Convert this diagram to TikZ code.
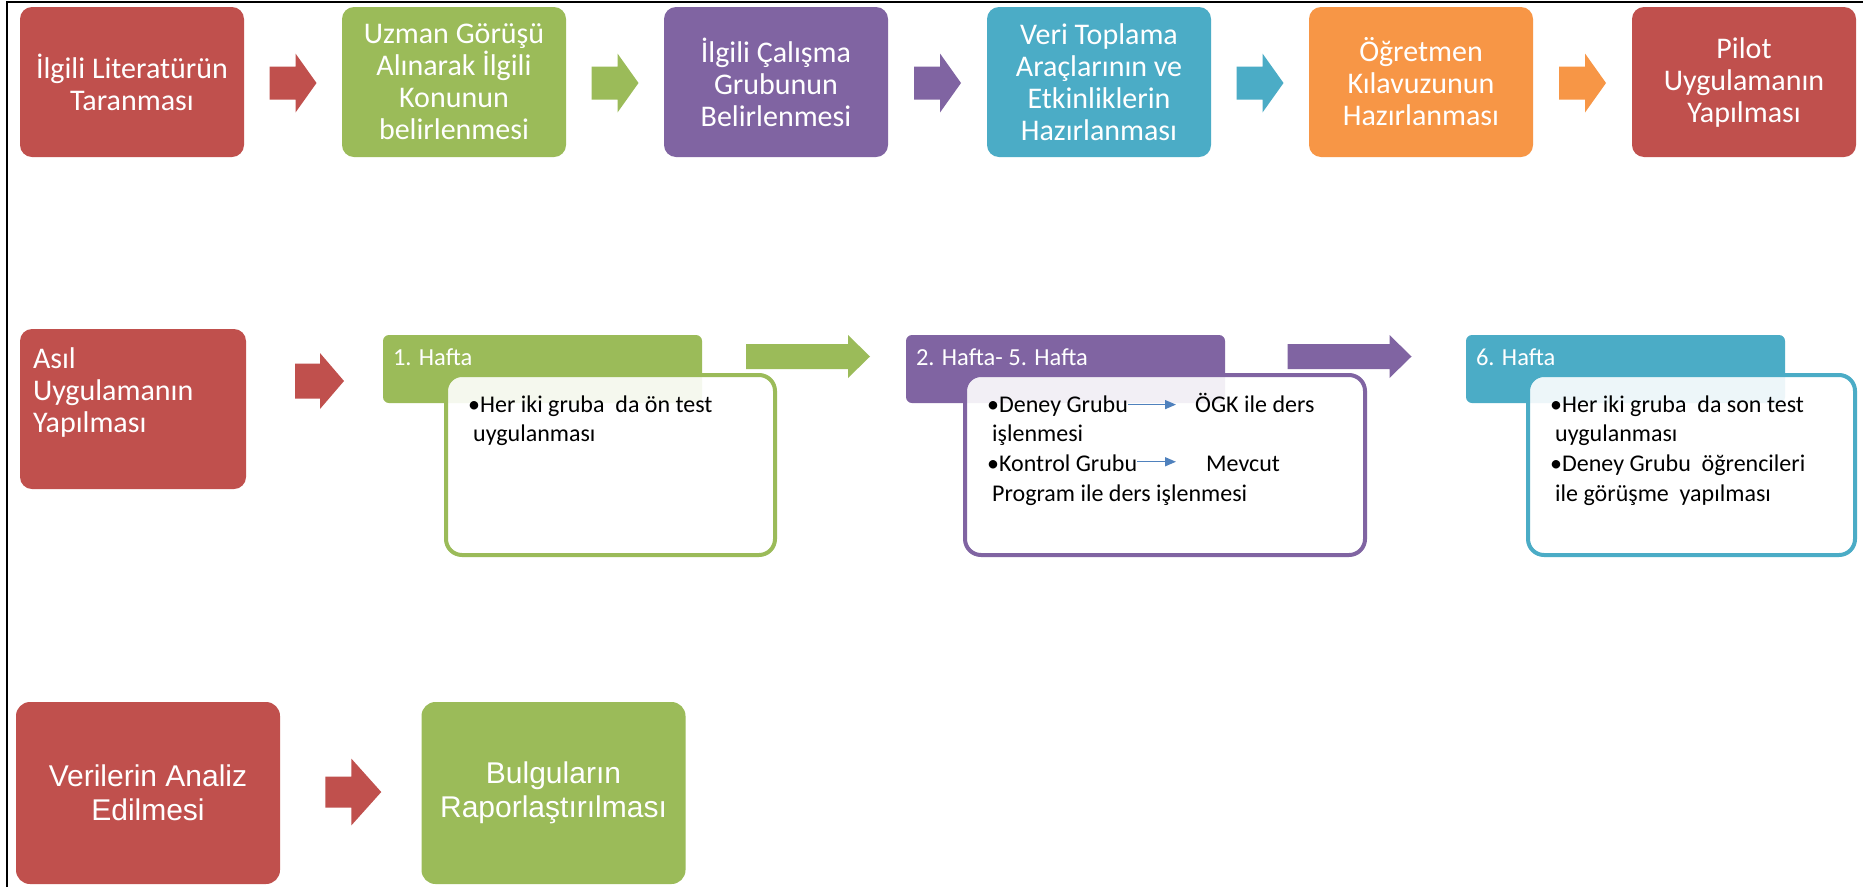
\documentclass[tikz,border=0pt]{standalone}
\usepackage{fontspec}
\setmainfont{Carlito}
\newfontfamily\arialfont{Liberation Sans}
\usetikzlibrary{calc,arrows.meta}

\definecolor{cred}{HTML}{C0504D}
\definecolor{cgreen}{HTML}{9BBB59}
\definecolor{cpurple}{HTML}{8064A2}
\definecolor{cteal}{HTML}{4BACC6}
\definecolor{corange}{HTML}{F79646}
\definecolor{cblue}{HTML}{4F81BD}

\tikzset{
  stepbox/.style={rounded corners=12pt, inner sep=0pt, text=white, align=center,
    font=\fontsize{30}{32}\selectfont, minimum width=224pt, minimum height=150pt},
  plainbox/.style={rounded corners=12pt, inner sep=0pt},
  boxtext/.style={inner sep=0pt, text=white, align=left, font=\fontsize{30}{32}\selectfont},
  hdrbox/.style={rounded corners=6pt, inner sep=0pt, minimum width=319pt, minimum height=68pt},
  hdrtext/.style={inner sep=0pt, text=white, anchor=west, font=\fontsize{24.5}{28}\selectfont},
  card/.style={rounded corners=16pt, line width=4pt, fill=white, fill opacity=0.9,
    text opacity=1, minimum height=180pt, inner sep=0pt},
  btext/.style={inner sep=0pt, anchor=base west, text=black, font=\fontsize{24}{29}\selectfont},
  smallarrow/.style={draw=cblue, line width=1.4pt, -{Triangle[length=11pt,width=9pt]}},
  finalbox/.style={rounded corners=14pt, inner sep=0pt, text=white, align=center,
    font=\arialfont\fontsize{30}{33.5}\selectfont, minimum width=264pt, minimum height=182pt},
  pics/blockarrow/.style args={#1/#2/#3/#4}{code={
    \fill ({-(#1+#2)/2},{-#3}) -- ({-(#1+#2)/2+#1},{-#3}) -- ({-(#1+#2)/2+#1},{-#4})
      -- ({(#1+#2)/2},0) -- ({-(#1+#2)/2+#1},{#4}) -- ({-(#1+#2)/2+#1},{#3})
      -- ({-(#1+#2)/2},{#3}) -- cycle;
  }}
}

\begin{document}
\begin{tikzpicture}[x=1pt, y=-1pt]
\useasboundingbox (0,0) rectangle (1863,887);
\fill[white] (0,0) rectangle (1863,887);
\draw[line width=2pt] (6.5,887) -- (6.5,1.5) -- (1863,1.5);

% --- preparation steps ---
\node[stepbox, fill=cred]    (lit) at (132,82)  {İlgili Literatürün\\Taranması};
\node[stepbox, fill=cgreen]  (uzm) at (454,82)  {Uzman Görüşü\\Alınarak İlgili\\Konunun\\belirlenmesi};
\node[stepbox, fill=cpurple] (grp) at (776,82)  {İlgili Çalışma\\Grubunun\\Belirlenmesi};
\node[stepbox, fill=cteal]   (ver) at (1099,82) {Veri Toplama\\Araçlarının ve\\Etkinliklerin\\Hazırlanması};
\node[stepbox, fill=corange] (ogr) at (1421,82) {Öğretmen\\Kılavuzunun\\Hazırlanması};
\node[stepbox, fill=cred]    (pil) at (1744,82) {Pilot\\Uygulamanın\\Yapılması};

\pic[fill=cred]    at ($(lit.east)!0.5!(uzm.west)+(0,1)$) {blockarrow={26/21/16.5/29.5}};
\pic[fill=cgreen]  at ($(uzm.east)!0.5!(grp.west)+(0,1)$) {blockarrow={26/21/16.5/29.5}};
\pic[fill=cpurple] at ($(grp.east)!0.5!(ver.west)+(0,1)$) {blockarrow={26/21/16.5/29.5}};
\pic[fill=cteal]   at ($(ver.east)!0.5!(ogr.west)+(0,1)$) {blockarrow={26/21/16.5/29.5}};
\pic[fill=corange] at ($(ogr.east)!0.5!(pil.west)+(0,1)$) {blockarrow={26/21/16.5/29.5}};

% --- main application ---
\node[plainbox, fill=cred, minimum width=226pt, minimum height=160pt] (asil) at (133,409) {};
\node[boxtext, anchor=north west] (asiltxt) at ($(asil.north west)+(13,19)$) {Asıl\\Uygulamanın\\Yapılması};
\pic[fill=cred] at (319.5,381) {blockarrow={25/24/17.5/28}};

% week headers
\node[hdrbox, fill=cgreen]  (h1) at (542.5,369)  {};
\node[hdrbox, fill=cpurple] (h2) at (1065.5,369) {};
\node[hdrbox, fill=cteal]   (h3) at (1625.5,369) {};
\node[hdrtext] (h1t) at ($(h1.west)+(10,-12)$) {1. Hafta};
\node[hdrtext] (h2t) at ($(h2.west)+(10,-12)$) {2. Hafta- 5. Hafta};
\node[hdrtext] (h3t) at ($(h3.west)+(10,-12)$) {6. Hafta};

\pic[fill=cgreen]  at (808,356.5)  {blockarrow={102/22/12.5/21.5}};
\pic[fill=cpurple] at (1349.5,356.5) {blockarrow={102/22/12.5/21.5}};

% week contents
\node[card, draw=cgreen,  minimum width=329pt] (c1) at (610.5,465) {};
\node[card, draw=cpurple, minimum width=400pt] (c2) at (1165,465)  {};
\node[card, draw=cteal,   minimum width=327pt] (c3) at (1691.5,465) {};

\node[btext] (c1a) at ($(c1.north west)+(24,39)$)  {•Her iki gruba~ da ön test};
\node[btext] (c1b) at ($(c1.north west)+(29,68)$)  {uygulanması};

\node[btext] (dg)  at ($(c2.north west)+(24,39)$)  {•Deney Grubu};
\node[btext] (ogk) at ($(c2.north west)+(232,39)$) {ÖGK ile ders};
\node[btext] (c2b) at ($(c2.north west)+(29,68)$)  {işlenmesi};
\node[btext] (kg)  at ($(c2.north west)+(24,98)$)  {•Kontrol Grubu};
\node[btext] (mev) at ($(c2.north west)+(243,98)$) {Mevcut};
\node[btext] (c2d) at ($(c2.north west)+(29,128)$) {Program ile ders işlenmesi};
\draw[smallarrow] ($(dg.east)+(0,-1)$) -- ($(ogk.west |- dg.east)+(-19,-1)$);
\draw[smallarrow] ($(kg.east)+(0,-1)$) -- ($(mev.west |- kg.east)+(-30,-1)$);

\node[btext] (c3a) at ($(c3.north west)+(24,39)$)  {•Her iki gruba~ da son test};
\node[btext] (c3b) at ($(c3.north west)+(29,68)$)  {uygulanması};
\node[btext] (c3c) at ($(c3.north west)+(24,98)$)  {•Deney Grubu~ öğrencileri};
\node[btext] (c3d) at ($(c3.north west)+(29,128)$) {ile görüşme~ yapılması};

% --- analysis and reporting ---
\node[finalbox, fill=cred]   (ana) at (148,793)   {Verilerin Analiz\\Edilmesi};
\node[finalbox, fill=cgreen] (bul) at (553.5,793) {Bulguların\\Raporlaştırılması};
\pic[fill=cred] at ($(ana.east)!0.5!(bul.west)+(2.5,-1)$) {blockarrow={26/30/15.5/33.5}};
\end{tikzpicture}
\end{document}
